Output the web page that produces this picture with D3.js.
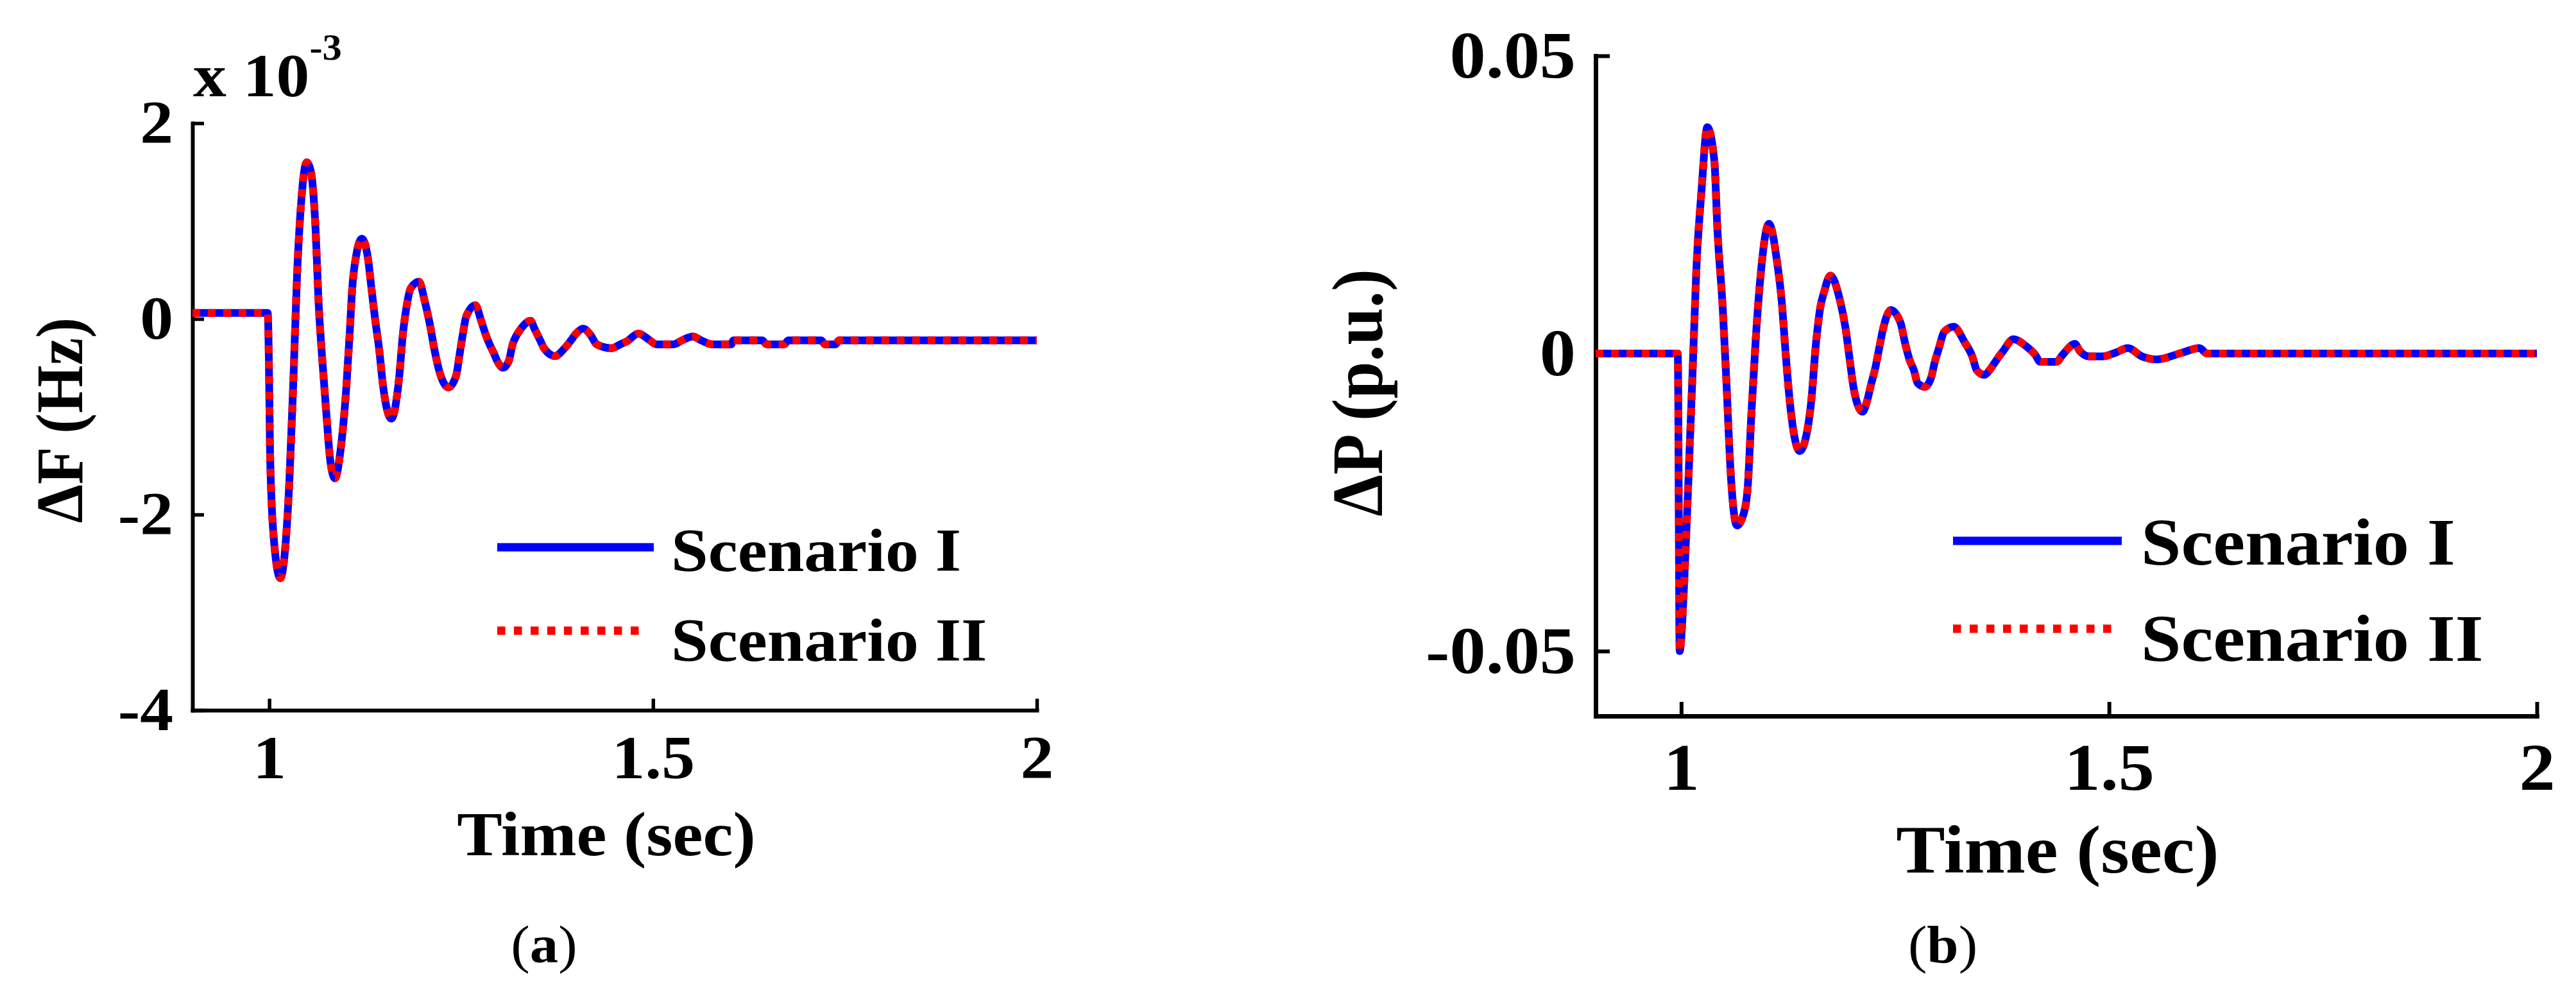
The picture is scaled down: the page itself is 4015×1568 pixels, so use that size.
<!DOCTYPE html>
<html>
<head>
<meta charset="utf-8">
<script src="https://cdn.jsdelivr.net/npm/d3@7"></script>
<style>
html, body { margin: 0; padding: 0; background: #ffffff; }
svg { display: block; }
</style>
</head>
<body>
<svg id="chart" width="4015" height="1568"></svg>
<script>
// ---------------- DATA ----------------
// Panel (a): frequency deviation, values in units of 10^-3 Hz
const timeA = [0.900, 0.998, 0.9995, 1.0011, 1.0062, 1.0145, 1.0204, 1.0262, 1.0312, 1.0362,
  1.0413, 1.0488, 1.0546, 1.0596, 1.0647, 1.0697, 1.0747, 1.0797, 1.0856, 1.0931,
  1.1006, 1.1048, 1.1081, 1.1131, 1.1207, 1.1282, 1.1332, 1.1382, 1.1432, 1.1482,
  1.1591, 1.1691, 1.1742, 1.1792, 1.1842, 1.1951, 1.2026, 1.2101, 1.2151, 1.2218,
  1.2335, 1.2435, 1.2477, 1.2519, 1.2569, 1.2686, 1.2761, 1.2820, 1.2870, 1.2920,
  1.2970, 1.3045, 1.3121, 1.3171, 1.3221, 1.3280, 1.3405, 1.3455, 1.3530, 1.3580,
  1.3722, 1.3848, 1.3931, 1.3998, 1.4090, 1.4182, 1.4266, 1.4458, 1.4575, 1.4659,
  1.4809, 1.4960, 1.5043, 1.5269, 1.5377, 1.5520, 1.5628, 1.5770, 1.6021, 1.6046,
  1.6422, 1.6481, 1.6707, 1.6765, 1.7191, 1.7241, 1.7375, 1.7425, 2.000];
const dF_I = [0.06, 0.06, -0.41, -1.38, -2.27, -2.65, -2.38, -1.66, -0.68, 0.44,
  1.16, 1.60, 1.49, 1.03, 0.11, -0.48, -1.00, -1.46, -1.63, -1.33,
  -0.68, -0.15, 0.31, 0.64, 0.82, 0.64, 0.31, -0.02, -0.31, -0.68,
  -1.02, -0.61, -0.15, 0.14, 0.31, 0.38, 0.18, -0.09, -0.31, -0.54,
  -0.70, -0.58, -0.38, -0.17, 0.03, 0.14, -0.02, -0.16, -0.26, -0.34,
  -0.43, -0.50, -0.43, -0.26, -0.17, -0.10, -0.02, -0.10, -0.22, -0.30,
  -0.38, -0.30, -0.22, -0.15, -0.10, -0.16, -0.26, -0.30, -0.26, -0.23,
  -0.15, -0.22, -0.26, -0.26, -0.22, -0.18, -0.22, -0.26, -0.26, -0.22,
  -0.22, -0.26, -0.26, -0.22, -0.22, -0.26, -0.26, -0.22, -0.22];
// Scenario II lies on top of Scenario I in the picture (same readings)
const dF_II = dF_I.slice();

// Panel (b): power deviation, p.u.
const timeB = [0.900, 0.9945, 0.9960, 0.9982, 1.0027, 1.0080, 1.0132, 1.0177, 1.0237, 1.0305,
  1.0387, 1.0424, 1.0485, 1.0530, 1.0575, 1.0650, 1.0732, 1.0777, 1.0822, 1.0875,
  1.0927, 1.1025, 1.1122, 1.1175, 1.1220, 1.1272, 1.1385, 1.1475, 1.1520, 1.1572,
  1.1625, 1.1669, 1.1744, 1.1849, 1.1924, 1.1969, 1.2022, 1.2119, 1.2172, 1.2217,
  1.2269, 1.2314, 1.2359, 1.2449, 1.2562, 1.2614, 1.2667, 1.2719, 1.2764, 1.2847,
  1.2922, 1.2959, 1.3012, 1.3072, 1.3184, 1.3312, 1.3402, 1.3454, 1.3544, 1.3604,
  1.3657, 1.3709, 1.3762, 1.3882, 1.4032, 1.4136, 1.4196, 1.4384, 1.4459, 1.4601,
  1.4659, 1.4771, 1.4921, 1.5071, 1.5221, 1.5386, 1.5559, 1.5846, 1.6056, 1.6146, 2.000];
const dP_I = [0.0, 0.0, 0.0, -0.0500, -0.0410, -0.0228, -0.0035, 0.0141, 0.0273, 0.0380,
  0.0324, 0.0206, 0.0077, -0.0053, -0.0193, -0.0289, -0.0268, -0.0225, -0.0096, 0.0033,
  0.0130, 0.0218, 0.0152, 0.0087, 0.0001, -0.0085, -0.0164, -0.0128, -0.0080, 0.0012,
  0.0077, 0.0103, 0.0131, 0.0093, 0.0039, -0.0010, -0.0064, -0.0098, -0.0080, -0.0053,
  -0.0024, 0.0009, 0.0041, 0.0073, 0.0052, 0.0019, -0.0010, -0.0028, -0.0050, -0.0056,
  -0.0040, -0.0017, 0.0009, 0.0036, 0.0045, 0.0019, -0.0005, -0.0028, -0.0036, -0.0028,
  -0.0017, -0.0006, 0.0004, 0.0024, 0.0012, -0.0002, -0.0014, -0.0014, -0.0002, 0.0016,
  0.0004, -0.0005, -0.0005, 0.0001, 0.0009, -0.0005, -0.0010, 0.0001, 0.0009, 0.0, 0.0];
const dP_II = dP_I.slice();

const xTicks = [1, 1.5, 2];
const yTicksA = [-4, -2, 0, 2];
const yTicksB = [-0.05, 0, 0.05];
const seriesNames = ["Scenario I", "Scenario II"];
const seriesColors = ["#0000ff", "#ff0000"];

// ---------------- DRAWING ----------------
const SX = 1.08;   // the original figure is slightly stretched horizontally
const FONT = "'Liberation Serif', 'Times New Roman', Times, serif";
const svg = d3.select("#chart");
svg.append("rect").attr("width", 4015).attr("height", 1568).attr("fill", "#fff");

function addText(parent, x, y, str, o) {
  const g = parent.append("g")
    .attr("transform", `translate(${x},${y}) scale(${SX},1)` + (o.rotate ? ` rotate(${o.rotate})` : ""));
  const t = g.append("text")
    .attr("font-family", FONT)
    .attr("font-size", o.size)
    .attr("font-weight", o.weight || "bold")
    .attr("text-anchor", o.anchor || "start")
    .attr("fill", "#000");
  if (str !== null) t.text(str);
  return t;
}

function drawPanel(c) {
  const x = d3.scaleLinear().domain([0.9, 2]).range([c.left, c.right]);
  const y = d3.scaleLinear().domain(c.yDomain).range([c.bottom, c.top]);
  const g = svg.append("g");

  // Y axis
  const ya = g.append("g").attr("transform", `translate(${c.left},0)`)
    .call(d3.axisLeft(y).tickValues(c.yTicks).tickFormat(d => String(d))
      .tickSizeInner(-c.tickLen).tickSizeOuter(0).tickPadding(c.yPad));
  // X axis
  const xa = g.append("g").attr("transform", `translate(0,${c.bottom})`)
    .call(d3.axisBottom(x).tickValues(xTicks).tickFormat(d => String(d))
      .tickSizeInner(-c.tickLen).tickSizeOuter(0).tickPadding(c.xPad));

  [ya, xa].forEach(a => {
    a.attr("font-family", null).attr("font-size", null);
    a.select(".domain").attr("stroke", "#000").attr("stroke-width", c.axisW)
      .attr("stroke-linecap", "square");
    a.selectAll(".tick line").attr("stroke", "#000").attr("stroke-width", c.tickW);
    a.selectAll(".tick text")
      .attr("font-family", FONT).attr("font-size", c.fs).attr("font-weight", "bold")
      .attr("fill", "#000");
  });
  ya.selectAll(".tick text").attr("x", -c.yPad / SX).attr("transform", `scale(${SX},1)`);
  xa.selectAll(".tick text").attr("transform", `scale(${SX},1)`)
    .attr("x", d => 0);

  // Series
  const line = d3.line().x(d => x(d[0])).y(d => y(d[1])).curve(d3.curveMonotoneX);
  g.append("path").datum(d3.zip(c.time, c.s1))
    .attr("d", line).attr("fill", "none").attr("stroke", seriesColors[0])
    .attr("stroke-width", 12).attr("stroke-linejoin", "round");
  g.append("path").datum(d3.zip(c.time, c.s2))
    .attr("d", line).attr("fill", "none").attr("stroke", seriesColors[1])
    .attr("stroke-width", 12).attr("stroke-dasharray", "12,12").attr("stroke-linejoin", "round");

  // Legend
  const L = c.legend;
  g.append("line").attr("x1", L.x1).attr("x2", L.x2b).attr("y1", L.y1).attr("y2", L.y1)
    .attr("stroke", seriesColors[0]).attr("stroke-width", 13);
  g.append("line").attr("x1", L.x1).attr("x2", L.x2r).attr("y1", L.y2).attr("y2", L.y2)
    .attr("stroke", seriesColors[1]).attr("stroke-width", 13).attr("stroke-dasharray", "12.5,13.5");
  addText(g, L.tx, L.b1, seriesNames[0], { size: c.fs });
  addText(g, L.tx, L.b2, seriesNames[1], { size: c.fs });

  // Axis labels
  addText(g, c.xlab[0], c.xlab[1], "Time (sec)", { size: c.fsLab, anchor: "middle" });
  addText(g, c.ylab[0], c.ylab[1], c.ylabText, { size: c.fs, anchor: "middle", rotate: -90 });

  // Panel caption
  const cap = addText(g, c.cap[0], c.cap[1], null, { size: 82, anchor: "middle", weight: "normal" });
  cap.append("tspan").text("(");
  cap.append("tspan").attr("font-weight", "bold").text(c.capLetter);
  cap.append("tspan").text(")");
  return g;
}

const gA = drawPanel({
  left: 300, right: 1616, top: 192, bottom: 1107,
  yDomain: [-4, 2], yTicks: yTicksA, time: timeA, s1: dF_I, s2: dF_II,
  tickLen: 18, tickW: 5.5, axisW: 6, yPad: 30, xPad: 38, fs: 96, fsLab: 98,
  legend: { x1: 775, x2b: 1019, x2r: 1008, y1: 853, y2: 983, tx: 1046, b1: 890, b2: 1030 },
  xlab: [945, 1333], ylab: [128, 655], ylabText: "\u0394F (Hz)",
  cap: [848, 1500], capLetter: "a"
});
// Exponent label for panel (a)
const mult = addText(gA, 301, 150, null, { size: 96 });
mult.append("tspan").text("x 10");
mult.append("tspan").attr("font-size", 56).attr("dy", -57).text("-3");

drawPanel({
  left: 2487, right: 3954, top: 87, bottom: 1116,
  yDomain: [-0.0609, 0.05], yTicks: yTicksB, time: timeB, s1: dP_I, s2: dP_II,
  tickLen: 22, tickW: 6, axisW: 7, yPad: 31, xPad: 41, fs: 104, fsLab: 106,
  legend: { x1: 3044, x2b: 3307, x2r: 3292, y1: 843, y2: 980, tx: 3337, b1: 880, b2: 1030 },
  xlab: [3207, 1360], ylab: [2154, 612], ylabText: "\u0394P (p.u.)",
  cap: [3028, 1500], capLetter: "b"
});
</script>
</body>
</html>
